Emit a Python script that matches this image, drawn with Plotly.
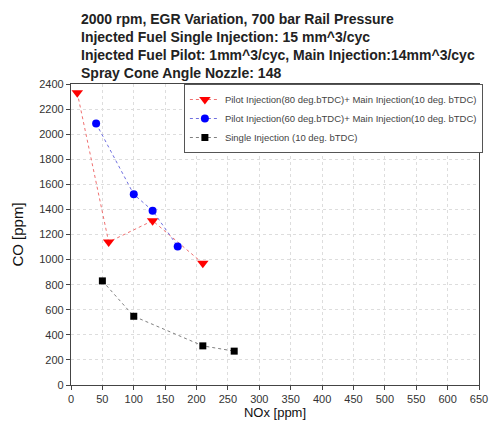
import plotly.graph_objects as go

# Data
red_x = [10, 60, 130, 210]
red_y = [2330, 1140, 1310, 970]
blue_x = [40, 100, 130, 170]
blue_y = [2085, 1520, 1390, 1105]
black_x = [50, 100, 210, 260]
black_y = [830, 548, 312, 270]

names = [
    "Pilot Injection(80 deg.bTDC)+ Main Injection(10 deg. bTDC)",
    "Pilot Injection(60 deg.bTDC)+ Main Injection(10 deg. bTDC)",
    "Single Injection (10 deg. bTDC)",
]
title_lines = [
    "2000 rpm, EGR Variation, 700 bar Rail Pressure",
    "Injected Fuel Single Injection: 15 mm^3/cyc",
    "Injected Fuel Pilot: 1mm^3/cyc, Main Injection:14mm^3/cyc",
    "Spray Cone Angle Nozzle: 148",
]
x_ticks = list(range(0, 651, 50))
y_ticks = list(range(0, 2401, 200))

fig = go.Figure()
fig.add_trace(go.Scatter(x=red_x, y=red_y, name=names[0], mode="lines+markers",
                         line=dict(color="#f07070", width=1, dash="dot"),
                         marker=dict(symbol="triangle-down", size=10, color="#ff0000")))
fig.add_trace(go.Scatter(x=blue_x, y=blue_y, name=names[1], mode="lines+markers",
                         line=dict(color="#7070e0", width=1, dash="dot"),
                         marker=dict(symbol="circle", size=8, color="#0000ff")))
fig.add_trace(go.Scatter(x=black_x, y=black_y, name=names[2], mode="lines+markers",
                         line=dict(color="#808080", width=1, dash="dot"),
                         marker=dict(symbol="square", size=7, color="#000000")))

L, R, T, B = 71, 11, 84, 42
plot_w = 494 - L - R
plot_h = 427 - T - B
annos = []
for i, line in enumerate(title_lines):
    pix = 19 + 18 * i
    annos.append(dict(text="<b>" + line + "</b>", xref="paper", yref="paper",
                      x=(79 - L) / plot_w, y=(427 - B - pix) / plot_h,
                      xanchor="left", yanchor="middle", showarrow=False,
                      font=dict(family="Liberation Sans, Arial", size=14, color="#222")))

axis_common = dict(showline=True, linecolor="#444", linewidth=1.2, mirror=True,
                   ticks="outside", ticklen=4, tickcolor="#444",
                   showgrid=True, gridcolor="#dddddd", griddash="dot", gridwidth=1,
                   zeroline=False, automargin=False,
                   tickfont=dict(family="Liberation Sans, Arial", size=11, color="#333"))

fig.update_layout(
    width=494, height=427,
    margin=dict(l=L, r=R, t=T, b=B),
    paper_bgcolor="white", plot_bgcolor="white",
    annotations=annos,
    showlegend=True,
    legend=dict(x=(185 - L) / plot_w, y=1, xanchor="left", yanchor="top",
                bgcolor="white", bordercolor="#555", borderwidth=1,
                font=dict(family="Liberation Sans, Arial", size=9.5, color="#444"),
                tracegroupgap=0, itemwidth=30),
    xaxis=dict(range=[0, 650], tickvals=x_ticks,
               title=dict(text="NOx [ppm]", standoff=0,
                          font=dict(family="Liberation Sans, Arial", size=13, color="#111")),
               **axis_common),
    yaxis=dict(range=[0, 2400], tickvals=y_ticks,
               title=dict(text="CO [ppm]", standoff=11,
                          font=dict(family="Liberation Sans, Arial", size=15, color="#111")),
               **axis_common),
)

fig.write_html("out.html", config={"displayModeBar": False},
               post_script="document.body.style.margin='0';")
